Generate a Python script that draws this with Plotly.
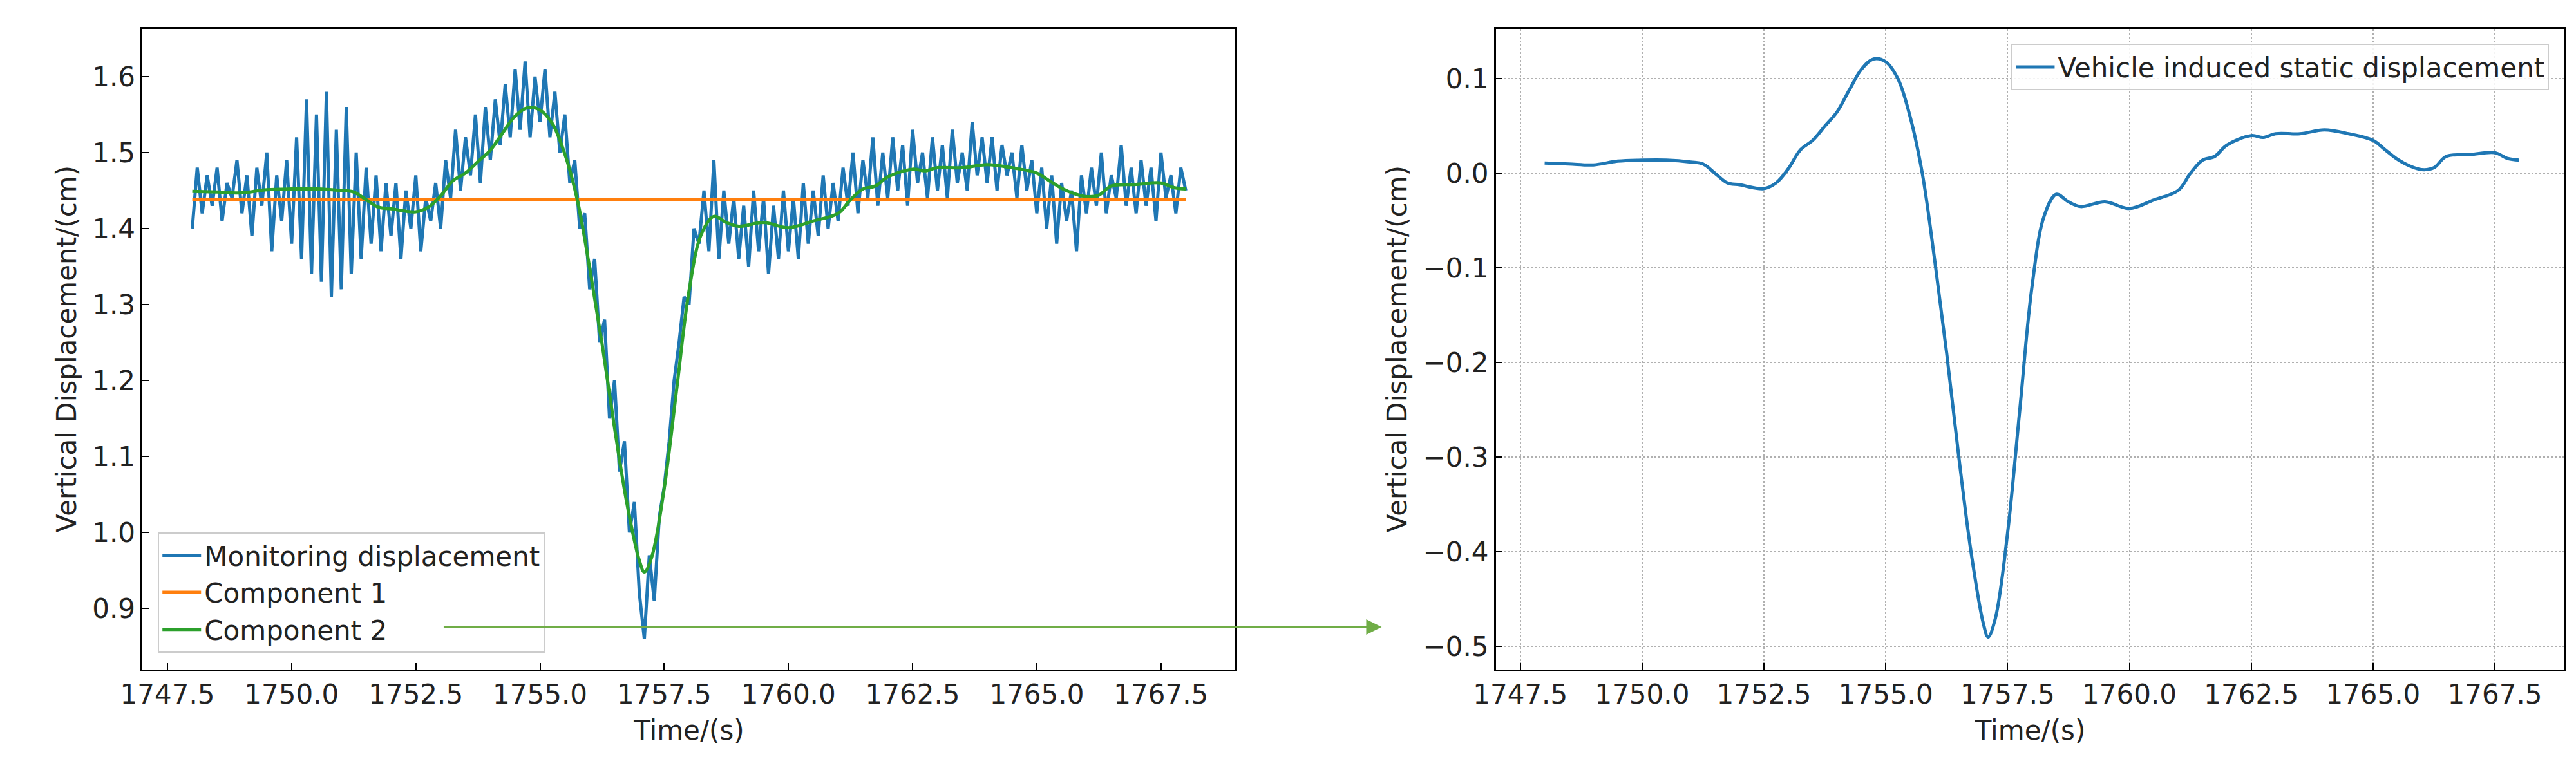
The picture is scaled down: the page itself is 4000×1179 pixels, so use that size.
import numpy as np
import plotly.graph_objects as go

# --- monitoring displacement (blue), sampled every 0.1 s from 1748.0 ---
t_mon = [round(1748.0 + 0.1 * i, 1) for i in range(201)]
y_mon = [
    1.40, 1.48, 1.42, 1.47, 1.43, 1.48, 1.41, 1.46, 1.44, 1.49,
    1.42, 1.47, 1.39, 1.48, 1.43, 1.50, 1.37, 1.47, 1.41, 1.49,
    1.38, 1.52, 1.36, 1.57, 1.34, 1.55, 1.33, 1.58, 1.31, 1.53,
    1.32, 1.56, 1.34, 1.50, 1.36, 1.48, 1.38, 1.47, 1.37, 1.46,
    1.39, 1.46, 1.36, 1.45, 1.40, 1.47, 1.37, 1.44, 1.41, 1.46,
    1.40, 1.49, 1.44, 1.53, 1.45, 1.52, 1.47, 1.55, 1.46, 1.56,
    1.49, 1.57, 1.51, 1.59, 1.52, 1.61, 1.53, 1.62, 1.52, 1.60,
    1.54, 1.61, 1.52, 1.58, 1.50, 1.55, 1.46, 1.49, 1.40, 1.42,
    1.32, 1.36, 1.25, 1.28, 1.15, 1.20, 1.08, 1.12, 1.00, 1.04,
    0.92, 0.86, 0.97, 0.91, 1.02, 1.06, 1.12, 1.20, 1.25, 1.31,
    1.30, 1.40, 1.38, 1.45, 1.37, 1.49, 1.36, 1.45, 1.38, 1.44,
    1.36, 1.43, 1.35, 1.45, 1.37, 1.44, 1.34, 1.43, 1.36, 1.45,
    1.37, 1.44, 1.36, 1.46, 1.38, 1.45, 1.39, 1.47, 1.40, 1.46,
    1.41, 1.48, 1.43, 1.50, 1.42, 1.49, 1.44, 1.52, 1.43, 1.50,
    1.44, 1.52, 1.45, 1.51, 1.43, 1.53, 1.46, 1.50, 1.44, 1.52,
    1.45, 1.51, 1.44, 1.53, 1.46, 1.50, 1.45, 1.54, 1.47, 1.52,
    1.46, 1.52, 1.45, 1.51, 1.47, 1.50, 1.44, 1.51, 1.45, 1.49,
    1.42, 1.48, 1.40, 1.47, 1.38, 1.46, 1.41, 1.45, 1.37, 1.47,
    1.42, 1.48, 1.43, 1.50, 1.42, 1.47, 1.44, 1.51, 1.43, 1.48,
    1.42, 1.49, 1.43, 1.48, 1.41, 1.50, 1.44, 1.47, 1.42, 1.48,
    1.45,
]

# --- component 1 (constant trend) ---
t_c1 = [1748.0, 1768.0]
y_c1 = [1.438, 1.438]

# --- vehicle induced static displacement (component 2 minus component 1) ---
t_static = [1748.0, 1748.5, 1749.0, 1749.5, 1750.0, 1750.5, 1751.0, 1751.25, 1751.5,
            1751.75, 1752.0, 1752.5, 1752.75, 1753.0, 1753.25, 1753.5, 1753.75, 1754.0,
            1754.25, 1754.5, 1754.75, 1755.0, 1755.25, 1755.5, 1755.75, 1756.0, 1756.25,
            1756.5, 1756.75, 1757.0, 1757.1, 1757.25, 1757.5, 1757.75, 1758.0, 1758.25,
            1758.5, 1758.75, 1759.0, 1759.5, 1760.0, 1760.5, 1761.0, 1761.25, 1761.5,
            1761.75, 1762.0, 1762.5, 1762.75, 1763.0, 1763.5, 1764.0, 1764.5, 1765.0,
            1765.25, 1765.5, 1765.75, 1766.0, 1766.25, 1766.5, 1767.0, 1767.5, 1767.75,
            1768.0]
y_static = [0.011, 0.010, 0.009, 0.013, 0.014, 0.014, 0.012, 0.010, 0.000,
            -0.010, -0.012, -0.016, -0.010, 0.005, 0.025, 0.035, 0.050, 0.065,
            0.088, 0.110, 0.121, 0.118, 0.100, 0.060, 0.000, -0.090, -0.190,
            -0.300, -0.400, -0.475, -0.490, -0.470, -0.380, -0.250, -0.120, -0.045,
            -0.022, -0.030, -0.035, -0.030, -0.037, -0.028, -0.018, 0.000, 0.014,
            0.018, 0.030, 0.040, 0.038, 0.042, 0.042, 0.046, 0.042, 0.035,
            0.025, 0.015, 0.008, 0.004, 0.006, 0.018, 0.020, 0.022, 0.016,
            0.014]
y_c2 = list(np.array(y_static) + y_c1[0])

x_ticks = [1747.5, 1750.0, 1752.5, 1755.0, 1757.5, 1760.0, 1762.5, 1765.0, 1767.5]
x_tick_text = [f"{v:.1f}" for v in x_ticks]
y1_ticks = [0.9, 1.0, 1.1, 1.2, 1.3, 1.4, 1.5, 1.6]
y2_ticks = [-0.5, -0.4, -0.3, -0.2, -0.1, 0.0, 0.1]

FONT = "DejaVu Sans"
FS = 42
fig = go.Figure()

fig.add_trace(go.Scatter(x=t_mon, y=y_mon, mode="lines", name="Monitoring displacement",
                         line=dict(color="#1f77b4", width=5), xaxis="x", yaxis="y"))
fig.add_trace(go.Scatter(x=t_c1, y=y_c1, mode="lines", name="Component 1",
                         line=dict(color="#ff7f0e", width=5), xaxis="x", yaxis="y"))
fig.add_trace(go.Scatter(x=t_static, y=y_c2, mode="lines", name="Component 2", line_shape="spline",
                         line=dict(color="#2ca02c", width=5), xaxis="x", yaxis="y"))
fig.add_trace(go.Scatter(x=t_static, y=y_static, mode="lines", line_shape="spline",
                         name="Vehicle induced static displacement",
                         line=dict(color="#1f77b4", width=5), xaxis="x2", yaxis="y2",
                         legend="legend2"))

ax = dict(showline=True, linecolor="black", linewidth=3, mirror=True, ticks="inside",
          ticklen=10, tickwidth=2, tickcolor="black", zeroline=False,
          tickfont=dict(family=FONT, size=FS, color="#222"))
fig.update_layout(
    width=4000, height=1179, margin=dict(l=0, r=0, t=0, b=0),
    paper_bgcolor="white", plot_bgcolor="white",
    font=dict(family=FONT, color="#222"),
    xaxis=dict(ax, domain=[0.045, 0.473], range=[1747.0, 1769.0], anchor="y",
               tickvals=x_ticks, ticktext=x_tick_text, showgrid=False,
               title=dict(text="Time/(s)", font=dict(size=FS), standoff=18)),
    yaxis=dict(ax, domain=[0.125, 0.969], range=[0.82, 1.663], anchor="x",
               tickvals=y1_ticks, tickformat=".1f", showgrid=False,
               title=dict(text="Vertical Displacement/(cm)", font=dict(size=FS), standoff=12)),
    xaxis2=dict(ax, domain=[0.575, 0.9935], range=[1747.0, 1768.93], anchor="y2",
                tickvals=x_ticks, ticktext=x_tick_text,
                showgrid=True, gridcolor="#b0b0b0", griddash="dot", gridwidth=2,
                title=dict(text="Time/(s)", font=dict(size=FS), standoff=18)),
    yaxis2=dict(ax, domain=[0.125, 0.969], range=[-0.524, 0.153], anchor="x2",
                tickvals=y2_ticks, ticktext=["\u22120.5", "\u22120.4", "\u22120.3", "\u22120.2",
                                             "\u22120.1", "0.0", "0.1"],
                showgrid=True, gridcolor="#b0b0b0", griddash="dot", gridwidth=2,
                title=dict(text="Vertical Displacement/(cm)", font=dict(size=FS), standoff=12)),
    legend=dict(x=0.051, y=0.147, xanchor="left", yanchor="bottom",
                bgcolor="rgba(255,255,255,0.85)", bordercolor="#cccccc", borderwidth=2,
                font=dict(family=FONT, size=FS, color="#222"), tracegroupgap=8,
                itemwidth=60),
    legend2=dict(x=0.9875, y=0.949, xanchor="right", yanchor="top",
                 bgcolor="rgba(255,255,255,0.85)", bordercolor="#cccccc", borderwidth=2,
                 font=dict(family=FONT, size=FS, color="#222"), itemwidth=60),
    showlegend=True,
)

# green arrow linking Component 2 to the right panel
fig.add_annotation(xref="paper", yref="paper", x=2121 / 4000, y=1 - 966 / 1179,
                   ax=663 - 2121, ay=0,
                   showarrow=True, arrowhead=2, arrowsize=1.2, arrowwidth=4, arrowcolor="#70ad47",
                   text="")

fig.write_html("out.html")
